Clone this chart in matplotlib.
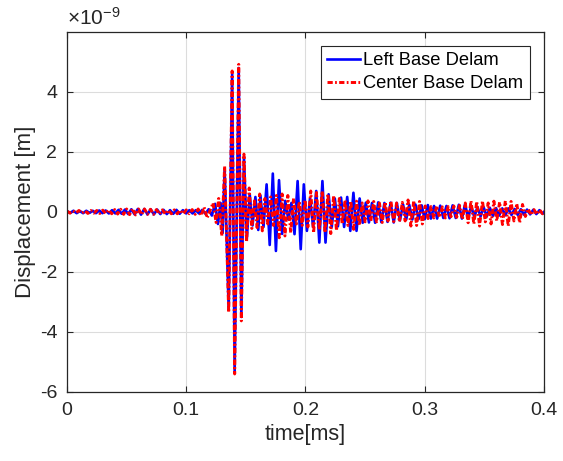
import numpy as np
import matplotlib
matplotlib.use("Agg")
import matplotlib.pyplot as plt

plt.rcParams["font.family"] = ["Liberation Sans", "DejaVu Sans"]
plt.rcParams["mathtext.fontset"] = "custom"
plt.rcParams["mathtext.rm"] = "Liberation Sans"
plt.rcParams["axes.unicode_minus"] = False

# ---- Left Base Delam (peak-to-peak displacement, x1e-9 m) ----
left_pre_t0, left_pre_dt = 0.0, 0.0027
left_pre = [0.03, -0.03, 0.04, -0.04, 0.03, -0.04, 0.04, -0.03, 0.04, -0.04,
            0.05, -0.04, 0.05, -0.05, 0.06, -0.05, 0.07, -0.06, 0.08, -0.07,
            0.09, -0.08, 0.10, -0.09, 0.10, -0.08, 0.09, -0.08, 0.08, -0.07,
            0.07, -0.07, 0.06, -0.06, 0.07, -0.06, 0.06, -0.05, 0.06, -0.05,
            0.06, -0.05, 0.07, -0.06, 0.09, -0.12]
left_burst_t = [0.1242, 0.1266, 0.1288, 0.1305, 0.1322, 0.1356, 0.1385, 0.1406, 0.1440,
                0.1462, 0.1484, 0.1508, 0.1532, 0.1556, 0.1580, 0.1604, 0.1622]
left_burst = [0.27, -0.40, 0.30, -0.7, 1.45, -3.25, 4.6, -5.3, 4.8,
              -3.5, 1.85, -0.9, 0.6, -0.45, 0.5, -0.6, 0.55]
left_tail_t0, left_tail_dt = 0.1648, 0.0026
left_tail = [-0.5, 0.92, -1.1, 1.28, -1.3, 1.06, -0.73, 0.37,
             -0.25, 0.3, -0.74, 1.03, -1.24, 0.92, -0.63, 0.45, -0.5, 0.7, -1.02, 1.03, -1.02, 0.59,
             -0.5, 0.45, -0.48, 0.48, -0.5, 0.5, -0.63, 0.64, -0.63, 0.45,
             -0.36, 0.31, -0.35, 0.3, -0.36, 0.32, -0.34, 0.3, -0.33, 0.31, -0.35, 0.3,
             -0.28, 0.25, -0.26, 0.24, -0.25, 0.25, -0.24, 0.22, -0.24, 0.23, -0.22, 0.2, -0.22, 0.21, -0.2,
             0.2, -0.21, 0.22, -0.2, 0.24, -0.22, 0.26, -0.2, 0.2, -0.18, 0.17, -0.15, 0.16, -0.15,
             0.14, -0.13, 0.13, -0.12, 0.12, -0.11, 0.12, -0.1, 0.1, -0.1, 0.09, -0.09, 0.08, -0.08,
             0.07, -0.07, 0.06, -0.06, 0.05, -0.05]

# ---- Center Base Delam ----
center_pre_t0, center_pre_dt = 0.0, 0.0025
center_pre = [0.03, -0.04, 0.04, -0.03, 0.05, -0.04, 0.04, -0.05, 0.05, -0.04,
              0.05, -0.05, 0.06, -0.05, 0.07, -0.06, 0.08, -0.07, 0.09, -0.08,
              0.10, -0.09, 0.11, -0.10, 0.10, -0.09, 0.10, -0.08, 0.09, -0.08,
              0.08, -0.07, 0.07, -0.07, 0.06, -0.06, 0.07, -0.06, 0.06, -0.06,
              0.07, -0.06, 0.08, -0.08, 0.10, -0.12, 0.16, -0.2]
center_burst_t = [0.1225, 0.1250, 0.1272, 0.1298, 0.1322, 0.1356, 0.1385, 0.1406, 0.1440,
                  0.1462, 0.1484, 0.1506, 0.1528, 0.1550, 0.1572, 0.1594, 0.1616, 0.1638]
center_burst = [0.3, -0.35, 0.45, -0.8, 1.53, -3.35, 4.7, -5.4, 4.92,
                -3.63, 1.93, -1.0, 0.8, -0.55, 0.37, -0.52, 0.6, -0.63]
center_tail_t0, center_tail_dt = 0.1660, 0.0024
center_tail = [0.45, -0.4, 0.5, -0.45, 0.55,
               -0.86, 0.6, -0.8, 0.55, -0.7, 0.45,
               -0.4, 0.35, -0.45, 0.4, -0.5,
               0.7, -0.7, 0.65, -0.6, 0.7, -0.69, 0.6, -0.72, 0.55, -0.62,
               0.45, -0.4, 0.4, -0.45, 0.36, -0.58, 0.36, -0.45, 0.3,
               -0.33, 0.37, -0.3, 0.35, -0.33, 0.3, -0.35, 0.33, -0.3, 0.37, -0.32, 0.3, -0.33, 0.32, -0.3,
               0.4, -0.47, 0.38, -0.45, 0.35, -0.4,
               0.2, -0.22, 0.18, -0.2, 0.2, -0.18, 0.17, -0.2, 0.18, -0.16, 0.2, -0.18, 0.22, -0.25,
               0.3, -0.36, 0.37, -0.4, 0.35, -0.47, 0.37, -0.33, 0.3, -0.4, 0.36, -0.3, 0.33, -0.42,
               0.37, -0.47, 0.35, -0.3, 0.28, -0.36, 0.25,
               -0.15, 0.1, -0.1, 0.08, -0.08, 0.07, -0.06, 0.05]

x_ticks = [0, 0.1, 0.2, 0.3, 0.4]
y_ticks = [-6, -4, -2, 0, 2, 4]


def build(pre_t0, pre_dt, pre, burst_t, burst, tail_t0, tail_dt, tail):
    t = np.concatenate([pre_t0 + pre_dt * np.arange(len(pre)),
                        np.asarray(burst_t),
                        tail_t0 + tail_dt * np.arange(len(tail))])
    v = np.concatenate([pre, burst, tail])
    return t, v


t_left, v_left = build(left_pre_t0, left_pre_dt, left_pre, left_burst_t, left_burst,
                       left_tail_t0, left_tail_dt, left_tail)
t_center, v_center = build(center_pre_t0, center_pre_dt, center_pre, center_burst_t,
                           center_burst, center_tail_t0, center_tail_dt, center_tail)

fig = plt.figure(figsize=(5.63, 4.61), dpi=100)
ax = fig.add_axes([0.119, 0.1497, 0.8472, 0.781])

ax.plot(t_left, v_left, color="#0000ff", lw=1.9, label="Left Base Delam")
ax.plot(t_center, v_center, color="#ff0000", lw=2.1, ls=(0, (1.8, 0.8, 0.6, 0.8)),
        label="Center Base Delam")

ax.set_xlim(0, 0.4)
ax.set_ylim(-6, 6)
ax.set_xticks(x_ticks)
ax.set_xticklabels([f"{x:g}" for x in x_ticks])
ax.set_yticks(y_ticks)
ax.set_yticklabels([f"{y:d}" for y in y_ticks])

txt = "#262626"
ax.grid(True, color="#dcdcdc", lw=0.8)
ax.set_axisbelow(True)
for s in ax.spines.values():
    s.set_color(txt)
    s.set_linewidth(0.9)
ax.tick_params(direction="in", top=True, right=True, length=4, width=0.8,
               labelsize=14, colors=txt, pad=7)

ax.set_xlabel("time[ms]", fontsize=15.5, color=txt, labelpad=4)
ax.set_ylabel("Displacement [m]", fontsize=16, color=txt, labelpad=3)
ax.text(0.0, 1.01, r"$\mathregular{\times10^{-9}}$", transform=ax.transAxes,
        fontsize=15, color=txt, ha="left", va="bottom")

leg = ax.legend(loc="upper right", bbox_to_anchor=(0.97, 0.962), fontsize=13.2,
                frameon=True, fancybox=False, framealpha=1, edgecolor=txt,
                handlelength=1.8, handletextpad=0.15, borderpad=0.35, labelspacing=0.35,
                borderaxespad=0)
leg.get_frame().set_linewidth(0.8)

fig.savefig("out.png", dpi=100)
